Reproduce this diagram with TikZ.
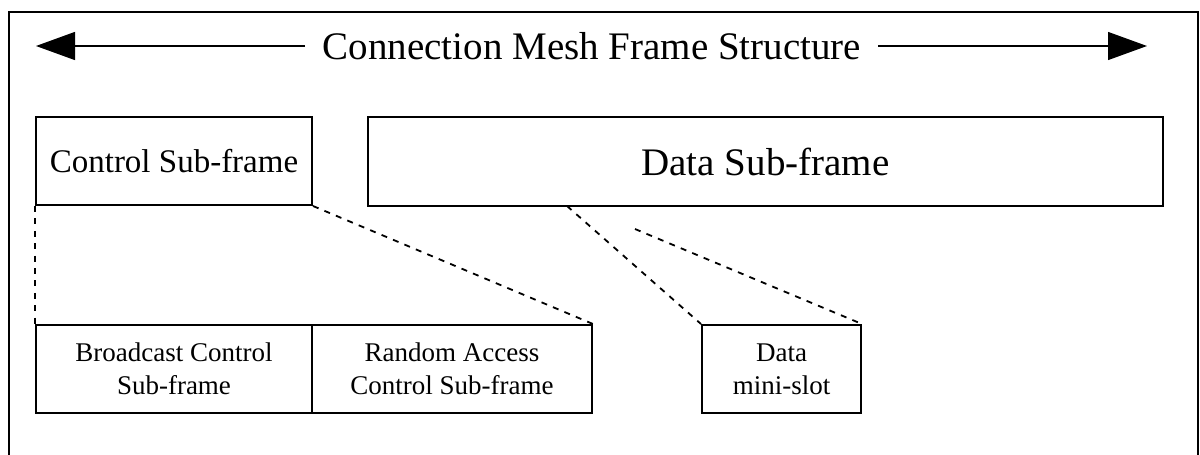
\documentclass[tikz,border=0pt]{standalone}
\usepackage{fontspec}
\setmainfont{Liberation Serif}
\usetikzlibrary{arrows.meta}
\tikzset{
  box/.style={draw, line width=1pt, rectangle, inner sep=0pt, align=center},
  bigfont/.style={font=\fontsize{19.5}{23}\selectfont},
  midfont/.style={font=\fontsize{16.5}{20}\selectfont},
  smallfont/.style={font=\fontsize{13.5}{16.5}\selectfont},
  dotline/.style={line width=0.9pt, dash pattern=on 3pt off 3.2pt},
  bigarrow/.style={line width=0.6pt, -{Triangle[length=19.5pt,width=14pt]}}
}
\begin{document}
\begin{tikzpicture}[x=0.5pt,y=-0.5pt]
\useasboundingbox (0,0) rectangle (1200,455);
% outer frame
\draw[line width=0.75pt] (9,455) -- (9,12) -- (1198,12) -- (1198,455);
% title with arrows
\node[bigfont, anchor=base, inner sep=0pt] (title) at (592,60) {Connection Mesh Frame Structure};
\coordinate (lstart) at (305,46);
\coordinate (ltip) at (36,46);
\coordinate (rstart) at (878,46);
\coordinate (rtip) at (1147,46);
\draw[bigarrow] (lstart) -- (ltip);
\draw[bigarrow] (rstart) -- (rtip);
% sub-frames
\node[box, midfont, minimum width=138pt, minimum height=44pt] (ctrl) at (174,161) {Control Sub-frame};
\node[box, bigfont, minimum width=397.5pt, minimum height=44.5pt] (data) at (765.5,161.5) {Data Sub-frame};
% lower boxes
\node[box, smallfont, minimum width=138pt, minimum height=44pt] (bcast) at (174,369) {Broadcast Control\\Sub-frame};
\node[box, smallfont, minimum width=140pt, minimum height=44pt] (rand) at (452,369) {Random Access\\Control Sub-frame};
\node[box, smallfont, minimum width=79.5pt, minimum height=44pt] (mini) at (781.5,369) {Data\\mini-slot};
% dashed connectors
\coordinate (d1) at (567,206);
\coordinate (d2) at (635,229);
\draw[dotline] (ctrl.south west) -- (bcast.north west);
\draw[dotline] (ctrl.south east) -- (rand.north east);
\draw[dotline] (d1) -- (mini.north west);
\draw[dotline] (d2) -- (mini.north east);
\end{tikzpicture}
\end{document}
